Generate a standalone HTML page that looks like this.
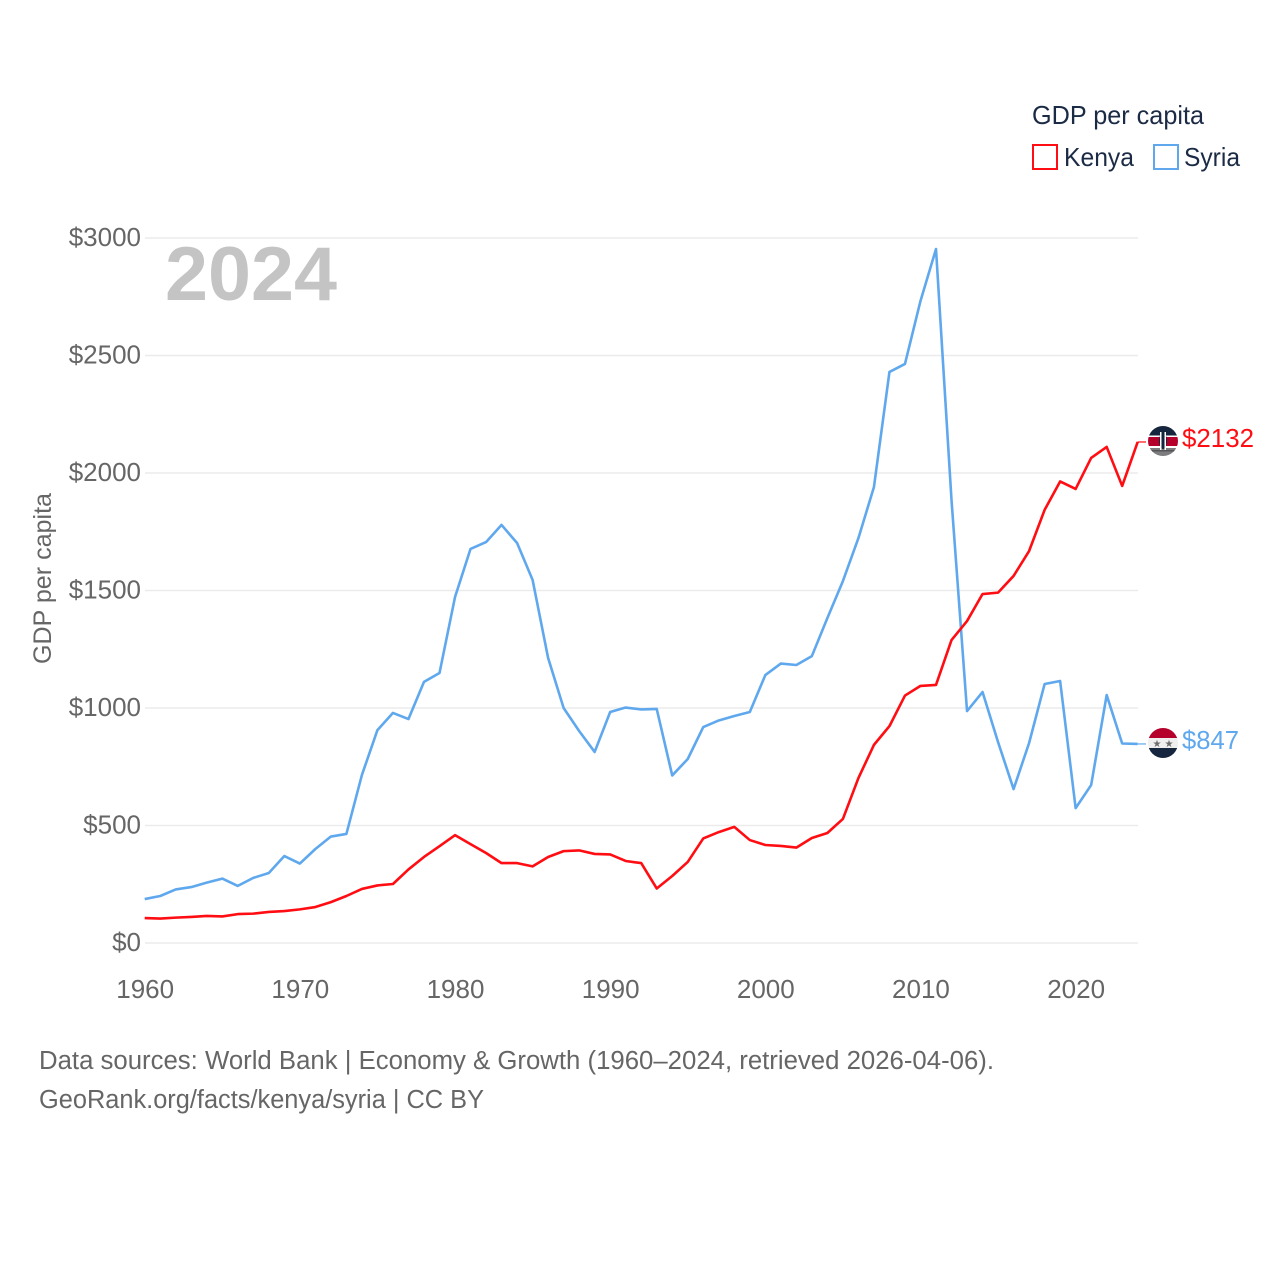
<!DOCTYPE html>
<html lang="en">
<head>
<meta charset="utf-8">
<title>GDP per capita: Kenya and Syria</title>
<style>
html,body{margin:0;padding:0;background:#fff;width:1280px;height:1280px;overflow:hidden}
svg{display:block}
text{font-family:"Liberation Sans",sans-serif}
</style>
</head>
<body>
<svg id="chart" xmlns="http://www.w3.org/2000/svg" width="1280" height="1280" viewBox="0 0 1280 1280">
  <rect width="1280" height="1280" fill="#fff"/>
  <g id="grid"></g>
  <g id="yticks"></g>
  <g id="xticks"></g>
  <text x="165" y="300" font-size="76" font-weight="700" fill="#c4c4c4" textLength="172" lengthAdjust="spacingAndGlyphs">2024</text>
  <text transform="translate(51,664) rotate(-90)" font-size="25" fill="#666" textLength="171" lengthAdjust="spacingAndGlyphs">GDP per capita</text>
  <g id="series"></g>

  <g>
    <text x="1032" y="124" font-size="26" fill="#1b2b45" textLength="172" lengthAdjust="spacingAndGlyphs">GDP per capita</text>
    <g>
      <rect x="1033" y="145" width="24" height="24" fill="#fff" stroke="#ff0d12" stroke-width="2"/>
      <text x="1064" y="166" font-size="26" fill="#1b2b45" textLength="70" lengthAdjust="spacingAndGlyphs">Kenya</text>
    </g>
    <g>
      <rect x="1154" y="145" width="24" height="24" fill="#fff" stroke="#5fa8ee" stroke-width="2"/>
      <text x="1184" y="166" font-size="26" fill="#1b2b45" textLength="56" lengthAdjust="spacingAndGlyphs">Syria</text>
    </g>
  </g>

  <defs>
    <clipPath id="flagK"><circle cx="1163" cy="441" r="15"/></clipPath>
    <clipPath id="flagS"><circle cx="1163" cy="743" r="15"/></clipPath>
  </defs>
  <g clip-path="url(#flagK)">
    <rect x="1148" y="426" width="30" height="30" fill="#fff"/>
    <rect x="1148" y="426" width="30" height="9.5" fill="#16263f"/>
    <rect x="1148" y="437" width="30" height="9" fill="#b5002c"/>
    <rect x="1148" y="448" width="30" height="9" fill="#7d7d7f"/>
    <ellipse cx="1163" cy="441" rx="4" ry="8" fill="#16263f"/>
    <rect x="1160" y="432" width="1.5" height="18" fill="#fff"/>
    <rect x="1164.5" y="432" width="1.5" height="18" fill="#fff"/>
    <rect x="1150" y="450" width="26" height="1.5" fill="#3a3a3c" opacity=".6"/>
  </g>
  <g clip-path="url(#flagS)">
    <rect x="1148" y="728" width="30" height="10" fill="#b5002c"/>
    <rect x="1148" y="738" width="30" height="11" fill="#efefef"/>
    <rect x="1148" y="748" width="30" height="11" fill="#16263f"/>
    <text x="1157" y="747" font-size="10" fill="#6d6d6d" text-anchor="middle" style="font-family:'DejaVu Sans',sans-serif">★</text>
    <text x="1169" y="747" font-size="10" fill="#6d6d6d" text-anchor="middle" style="font-family:'DejaVu Sans',sans-serif">★</text>
  </g>
  <text x="1182" y="447" font-size="26" fill="#ff0d12" textLength="72" lengthAdjust="spacingAndGlyphs">$2132</text>
  <text x="1182" y="749" font-size="26" fill="#5fa8ee" textLength="57" lengthAdjust="spacingAndGlyphs">$847</text>

  <g>
    <text x="39" y="1069" font-size="25.5" fill="#666" textLength="955" lengthAdjust="spacingAndGlyphs">Data sources: World Bank | Economy &amp; Growth (1960–2024, retrieved 2026-04-06).</text>
    <text x="39" y="1108" font-size="25.5" fill="#666" textLength="445" lengthAdjust="spacingAndGlyphs">GeoRank.org/facts/kenya/syria | CC BY</text>
  </g>
</svg>
<script>
const yearStart = 1960;
const kenyaValues = [106,104,108,111,115,113,123,125,132,136,143,153,174,200,230,245,251,313,366,412,459,421,383,340,340,326,366,391,394,379,377,349,340,232,285,345,445,472,494,438,417,413,406,447,468,528,702,843,923,1053,1094,1098,1289,1370,1485,1491,1562,1668,1843,1964,1932,2064,2111,1945,2132];
const syriaValues = [187,200,228,238,257,274,243,277,298,370,338,400,453,464,715,906,979,953,1111,1149,1472,1677,1706,1779,1702,1545,1213,1000,902,813,983,1002,994,996,713,783,919,947,966,983,1140,1189,1183,1221,1383,1540,1723,1940,2430,2464,2732,2953,1885,987,1068,855,655,851,1102,1115,574,672,1055,849,847];
const yTickValues = [0,500,1000,1500,2000,2500,3000];
const yTickLabels = ["$0","$500","$1000","$1500","$2000","$2500","$3000"];
const xTickYears = [1960,1970,1980,1990,2000,2010,2020];
const xTickLabels = ["1960","1970","1980","1990","2000","2010","2020"];

const NS = "http://www.w3.org/2000/svg";
const xScale = function (year) { return 144.7 + (year - 1960) * (993 / 64); };
const yScale = function (value) { return 943 - value * (705 / 3000); };

const gridGroup = document.getElementById("grid");
const yTickGroup = document.getElementById("yticks");
yTickValues.forEach(function (v, i) {
  const line = document.createElementNS(NS, "line");
  
  
  line.setAttribute("x1", 145);
  line.setAttribute("x2", 1138);
  line.setAttribute("y1", yScale(v));
  line.setAttribute("y2", yScale(v));
  line.setAttribute("stroke", "#ebebeb");
  line.setAttribute("stroke-width", "1.5");
  gridGroup.appendChild(line);
  const t = document.createElementNS(NS, "text");
  
  
  t.setAttribute("x", 141);
  t.setAttribute("y", yScale(v) + 8);
  t.setAttribute("text-anchor", "end");
  t.setAttribute("font-size", "26");
  t.setAttribute("fill", "#666");
  t.textContent = yTickLabels[i];
  yTickGroup.appendChild(t);
});

const xTickGroup = document.getElementById("xticks");
xTickYears.forEach(function (yr, i) {
  const t = document.createElementNS(NS, "text");
  
  
  t.setAttribute("x", xScale(yr) + 0.5);
  t.setAttribute("y", 998);
  t.setAttribute("text-anchor", "middle");
  t.setAttribute("font-size", "26");
  t.setAttribute("fill", "#666");
  t.textContent = xTickLabels[i];
  xTickGroup.appendChild(t);
});

const seriesGroup = document.getElementById("series");
function pointsFor(values) {
  return values.map(function (v, i) {
    return xScale(yearStart + i).toFixed(2) + "," + yScale(v).toFixed(2);
  }).join(" ");
}

const syriaLine = document.createElementNS(NS, "polyline");


syriaLine.setAttribute("points", pointsFor(syriaValues));
syriaLine.setAttribute("fill", "none");
syriaLine.setAttribute("stroke", "#5fa8ee");
syriaLine.setAttribute("stroke-width", "2.6");
syriaLine.setAttribute("stroke-linejoin", "round");
seriesGroup.appendChild(syriaLine);

const kenyaLine = document.createElementNS(NS, "polyline");


kenyaLine.setAttribute("points", pointsFor(kenyaValues));
kenyaLine.setAttribute("fill", "none");
kenyaLine.setAttribute("stroke", "#ff0d12");
kenyaLine.setAttribute("stroke-width", "2.6");
kenyaLine.setAttribute("stroke-linejoin", "round");
seriesGroup.appendChild(kenyaLine);

function leader(name, color, value) {
  const l = document.createElementNS(NS, "line");
  
  
  l.setAttribute("x1", xScale(2024));
  l.setAttribute("x2", 1146);
  l.setAttribute("y1", yScale(value));
  l.setAttribute("y2", yScale(value));
  l.setAttribute("stroke", color);
  l.setAttribute("stroke-width", "1.2");
  seriesGroup.appendChild(l);
}
leader("kenya-leader-line", "#ff0d12", kenyaValues[kenyaValues.length - 1]);
leader("syria-leader-line", "#5fa8ee", syriaValues[syriaValues.length - 1]);
</script>
</body>
</html>
